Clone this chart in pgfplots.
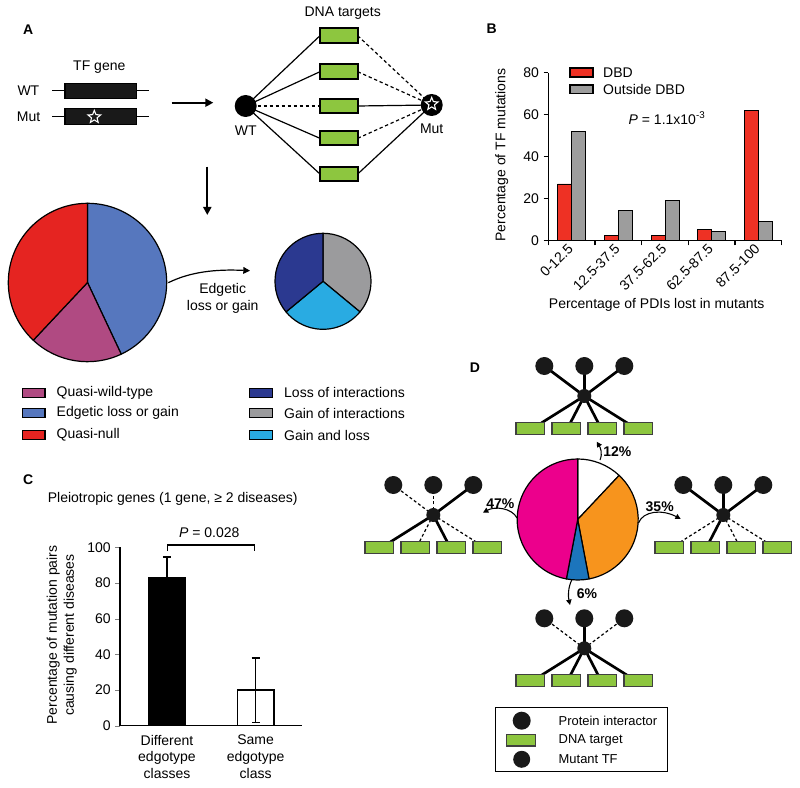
\documentclass[border=0pt]{standalone}
\usepackage{pgfplots}
\pgfplotsset{compat=1.18}
\usepackage{fontspec}
\setmainfont{Liberation Sans}
\usetikzlibrary{arrows.meta,shapes.geometric}

\definecolor{qwt}{HTML}{B04A82}
\definecolor{edg}{HTML}{5677BE}
\definecolor{qnull}{HTML}{E52421}
\definecolor{lossI}{HTML}{2B3990}
\definecolor{gainI}{HTML}{9B9B9D}
\definecolor{gainloss}{HTML}{29ABE2}
\definecolor{dbd}{HTML}{EE3124}
\definecolor{odbd}{HTML}{9D9D9D}
\definecolor{dna}{HTML}{8DC63F}
\definecolor{mag}{HTML}{EC008C}
\definecolor{org}{HTML}{F7941D}
\definecolor{dblue}{HTML}{1C75BC}

% pie shares in percent, clockwise from 12 o'clock
\newcommand\pieA{43/edg,19/qwt,38/qnull}
\newcommand\pieB{36/gainI,28/gainloss,36/lossI}
\newcommand\pieD{12/white,35/org,6/dblue,47/mag}

% #1 centre, #2 radius, #3 share list
\newcommand\drawpie[3]{%
  \begin{scope}[shift={#1}, yscale=-1]
    \gdef\pieang{90}
    \foreach \v/\c in #3 {
      \pgfmathsetmacro\pieend{\pieang-3.6*\v}
      \filldraw[fill=\c, draw=black, line width=0.9pt, line join=round]
        (0,0) -- (\pieang:#2) arc[start angle=\pieang, end angle=\pieend, radius=#2] -- cycle;
      \global\let\pieang\pieend
    }
  \end{scope}}

\tikzset{
  sol/.style={line width=2pt},
  das/.style={line width=0.9pt, dash pattern=on 2.2pt off 1.8pt},
  thin sol/.style={line width=0.9pt},
  thin das/.style={line width=0.9pt, dash pattern=on 2.5pt off 2pt},
  dnabox/.style={fill=dna, draw=black!75, line width=0.9pt},
}

% TF network glyph: #1 centre, #2-#4 protein edges, #5-#8 DNA edges
\newcommand\tfnet[8]{%
  \begin{scope}[shift={#1}]
    \draw[#2] (0,0) -- (-40,-30);
    \draw[#3] (0,0) -- (0,-30);
    \draw[#4] (0,0) -- (40,-30);
    \draw[#5] (0,0) -- (-43,27);
    \draw[#6] (0,0) -- (-14,27);
    \draw[#7] (0,0) -- (14,27);
    \draw[#8] (0,0) -- (43,27);
    \fill[black!90] (-40,-30) circle[radius=9] (0,-30) circle[radius=9] (40,-30) circle[radius=9];
    \fill[black!90] (0,0) circle[radius=7];
    \foreach \bx in {-54,-18,18,54}
      \filldraw[dnabox] (\bx-14.25,26.5) rectangle (\bx+14.25,38.5);
  \end{scope}}

\begin{document}
\begin{tikzpicture}[font=\fontsize{10.5}{12.6}\selectfont]
\path[use as bounding box] (0,0) rectangle (600pt,-591pt);

\begin{scope}[x=0.75pt,y=-0.75pt]
% ---------- panel A ----------
\node[font=\fontsize{10.5}{12.6}\bfseries] at (28.3,29.3) {A};
\node at (99.3,66.7) {TF gene};
\node[anchor=east] at (44,90.7) {WT};
\node[anchor=east] at (45,116.7) {Mut};
\draw[line width=0.9pt] (52.3,90.7) -- (149.3,90.7) (52.3,116.7) -- (149.3,116.7);
\filldraw[fill=black!90, draw=black, line width=0.9pt] (65,83.3) rectangle (136.7,98.5);
\filldraw[fill=black!90, draw=black, line width=0.9pt] (65,108.9) rectangle (136.7,124.3);
\node[star, star points=5, star point ratio=2.3, draw=white, line width=0.8pt, minimum size=10pt, inner sep=0pt] at (94.3,117) {};
\draw[line width=1.6pt, -{Triangle[length=6pt,width=6pt]}] (171.7,102.7) -- (213.3,102.7);
\draw[line width=1.6pt, -{Triangle[length=6pt,width=6pt]}] (207.3,166.7) -- (207.3,215);

\node at (342.7,13.3) {DNA targets};
\foreach \yy/\ls/\rs in {35.7/thin sol/thin das, 71.7/thin sol/thin das, 106/thin das/thin sol, 138.3/thin sol/thin das, 174/thin sol/thin sol} {
  \draw[\ls] (245.7,106) -- (320,\yy);
  \draw[\rs] (357.7,\yy) -- (431.7,105);
}
\foreach \yy in {35.7,71.7,106,138.3,174}
  \filldraw[fill=dna, draw=black, line width=1.5pt] (320,\yy-7.2) rectangle (357.7,\yy+7.2);
\fill[black] (245.7,106) circle[radius=11];
\fill[black] (431.7,105) circle[radius=11];
\node[star, star points=5, star point ratio=2.3, draw=white, line width=0.8pt, minimum size=10pt, inner sep=0pt] at (431.7,104) {};
\node at (245.7,131) {WT};
\node at (431.7,128.3) {Mut};

\drawpie{(87.5,282.5)}{79.2}{\pieA}
\drawpie{(323,281.3)}{48}{\pieB}
\draw[line width=0.9pt, -{Triangle[length=5pt,width=5pt]}] (168.3,282.7) .. controls (190,272) and (215,269) .. (250,270.7);
\node[align=center] at (222.7,298) {Edgetic\\loss or gain};

\foreach \yy/\cc/\tt in {392.7/qwt/Quasi-wild-type, 413.3/edg/Edgetic loss or gain, 435/qnull/Quasi-null} {
  \filldraw[fill=\cc, draw=black, line width=0.8pt] (22.7,\yy-4.5) rectangle (45,\yy+4.5);
  \node[anchor=west] at (52,\yy) {\tt};
}
\foreach \yy/\cc/\tt in {392.7/lossI/Loss of interactions, 413.3/gainI/Gain of interactions, 435/gainloss/Gain and loss} {
  \filldraw[fill=\cc, draw=black, line width=0.8pt] (249.3,\yy-4.5) rectangle (272.7,\yy+4.5);
  \node[anchor=west] at (279.5,\yy) {\tt};
}

% ---------- panel B (labels) ----------
\node[font=\fontsize{10.5}{12.6}\bfseries] at (491.7,28.3) {B};
\filldraw[fill=dbd, draw=black, line width=0.8pt] (570,68) rectangle (593,77);
\node[anchor=west] at (598.5,72.5) {DBD};
\filldraw[fill=odbd, draw=black, line width=0.8pt] (570,85) rectangle (593,93.5);
\node[anchor=west] at (598.5,89) {Outside DBD};
\node[anchor=west] at (624,118) {\textit{P} = 1.1x10\textsuperscript{-3}};
\node[rotate=90] at (501.7,155) {Percentage of TF mutations};
\node at (656.7,305) {Percentage of PDIs lost in mutants};

% ---------- panel C (labels) ----------
\node[font=\fontsize{10.5}{12.6}\bfseries] at (28.3,480) {C};
\node at (172.7,499) {Pleiotropic genes (1 gene, ≥ 2 diseases)};
\node at (209.3,532.7) {\textit{P} = 0.028};
\draw[line width=1pt] (167.7,551) -- (167.7,545) -- (254.3,545) -- (254.3,551);
\node[rotate=90, align=center, font=\fontsize{10.5}{12.8}\selectfont] at (61.7,635) {Percentage of mutation pairs\\causing different diseases};

% ---------- panel D ----------
\node[font=\fontsize{10.5}{12.6}\bfseries] at (475,367.7) {D};
\tfnet{(584.3,396)}{sol}{sol}{sol}{sol}{sol}{sol}{sol}
\tfnet{(433.3,515)}{das}{das}{sol}{sol}{das}{sol}{das}
\tfnet{(723.3,515)}{sol}{sol}{sol}{das}{sol}{das}{das}
\tfnet{(584.3,648.3)}{das}{sol}{das}{sol}{sol}{sol}{sol}
\drawpie{(577.7,519.5)}{60.5}{\pieD}
\tikzset{parr/.style={line width=0.8pt, -{Triangle[length=4pt,width=4pt]}}}
\draw[parr] (600,460) .. controls (603,453) and (600,447) .. (596.7,441.7);
\draw[parr] (517,518) .. controls (512,508) and (495,506) .. (483,512.7);
\draw[parr] (638.5,523) .. controls (643,511) and (662,509) .. (680.7,519);
\draw[parr] (571.7,580) .. controls (568,588) and (568,596) .. (570,605);
\node[font=\fontsize{10.5}{12.6}\bfseries] at (617.3,451.7) {12\%};
\node[font=\fontsize{10.5}{12.6}\bfseries] at (500.3,503.3) {47\%};
\node[font=\fontsize{10.5}{12.6}\bfseries] at (659.7,506.7) {35\%};
\node[font=\fontsize{10.5}{12.6}\bfseries] at (587,593.3) {6\%};

\draw[line width=0.8pt] (495.7,707.3) rectangle (667.3,771.7);
\fill[black!90] (521.7,720.7) circle[radius=9];
\filldraw[dnabox] (506.7,734.3) rectangle (535.7,746);
\fill[black!90] (521.7,759.3) circle[radius=8.5];
\begin{scope}[font=\fontsize{9.7}{11.6}\selectfont]
\node[anchor=west] at (554,720.7) {Protein interactor};
\node[anchor=west] at (554,740) {DNA target};
\node[anchor=west] at (554,759.3) {Mutant TF};
\end{scope}
\end{scope}

% ---------- panel B axis ----------
\begin{axis}[at={(411.2pt,-180.5pt)}, anchor=south west, scale only axis,
  width=175.1pt, height=126pt,
  axis x line*=bottom, axis y line*=left, axis line style={-, line width=0.9pt},
  xmin=-0.5, xmax=4.5, ymin=0, ymax=80, ytick={0,20,...,80},
  xtick={-0.5,0.5,...,4.5}, x tick label as interval,
  xticklabels={0-12.5,12.5-37.5,37.5-62.5,62.5-87.5,87.5-100},
  tick align=outside, major tick length=3.5pt,
  every tick/.style={black, line width=0.9pt},
  tick label style={font=\fontsize{10.5}{12.6}\selectfont},
  xticklabel style={rotate=45, anchor=east, inner sep=1pt},
  /pgf/number format/assume math mode=true,
  ybar=0pt, bar width=10.5pt,
]
\addplot[fill=dbd, draw=black, line width=0.5pt] coordinates {(0,27) (1,2.5) (2,2.5) (3,5.4) (4,62.2)};
\addplot[fill=odbd, draw=black, line width=0.5pt] coordinates {(0,52.2) (1,14.3) (2,19) (3,4.6) (4,9.2)};
\end{axis}

% ---------- panel C axis ----------
\begin{axis}[at={(90pt,-544.3pt)}, anchor=south west, scale only axis,
  width=136.3pt, height=133.8pt,
  axis x line*=bottom, axis y line*=left, axis line style={-, line width=1pt},
  xmin=-0.53, xmax=1.52, ymin=0, ymax=100, ytick={0,20,...,100},
  xtick={0,1}, xticklabels={{Different\\edgotype\\classes},{Same\\edgotype\\class}},
  major x tick style={draw=none},
  tick align=outside, major tick length=3.5pt,
  tick label style={font=\fontsize{10.5}{12.5}\selectfont},
  xticklabel style={align=center},
  /pgf/number format/assume math mode=true,
  ybar, bar width=27.5pt,
]
\addplot[fill=black, draw=black, line width=0.9pt, bar shift=0pt,
  error bars/.cd, y dir=plus, y explicit,
  error bar style={line width=1pt, black},
  error mark options={rotate=90, mark size=3pt, line width=1pt}]
  coordinates {(0,83.3) +- (0,11.3)};
\addplot[fill=white, draw=black, line width=0.9pt, bar shift=0pt,
  error bars/.cd, y dir=both, y explicit,
  error bar style={line width=1pt, black},
  error mark options={rotate=90, mark size=3pt, line width=1pt}]
  coordinates {(1,20) +- (0,18)};
\end{axis}
\end{tikzpicture}
\end{document}
